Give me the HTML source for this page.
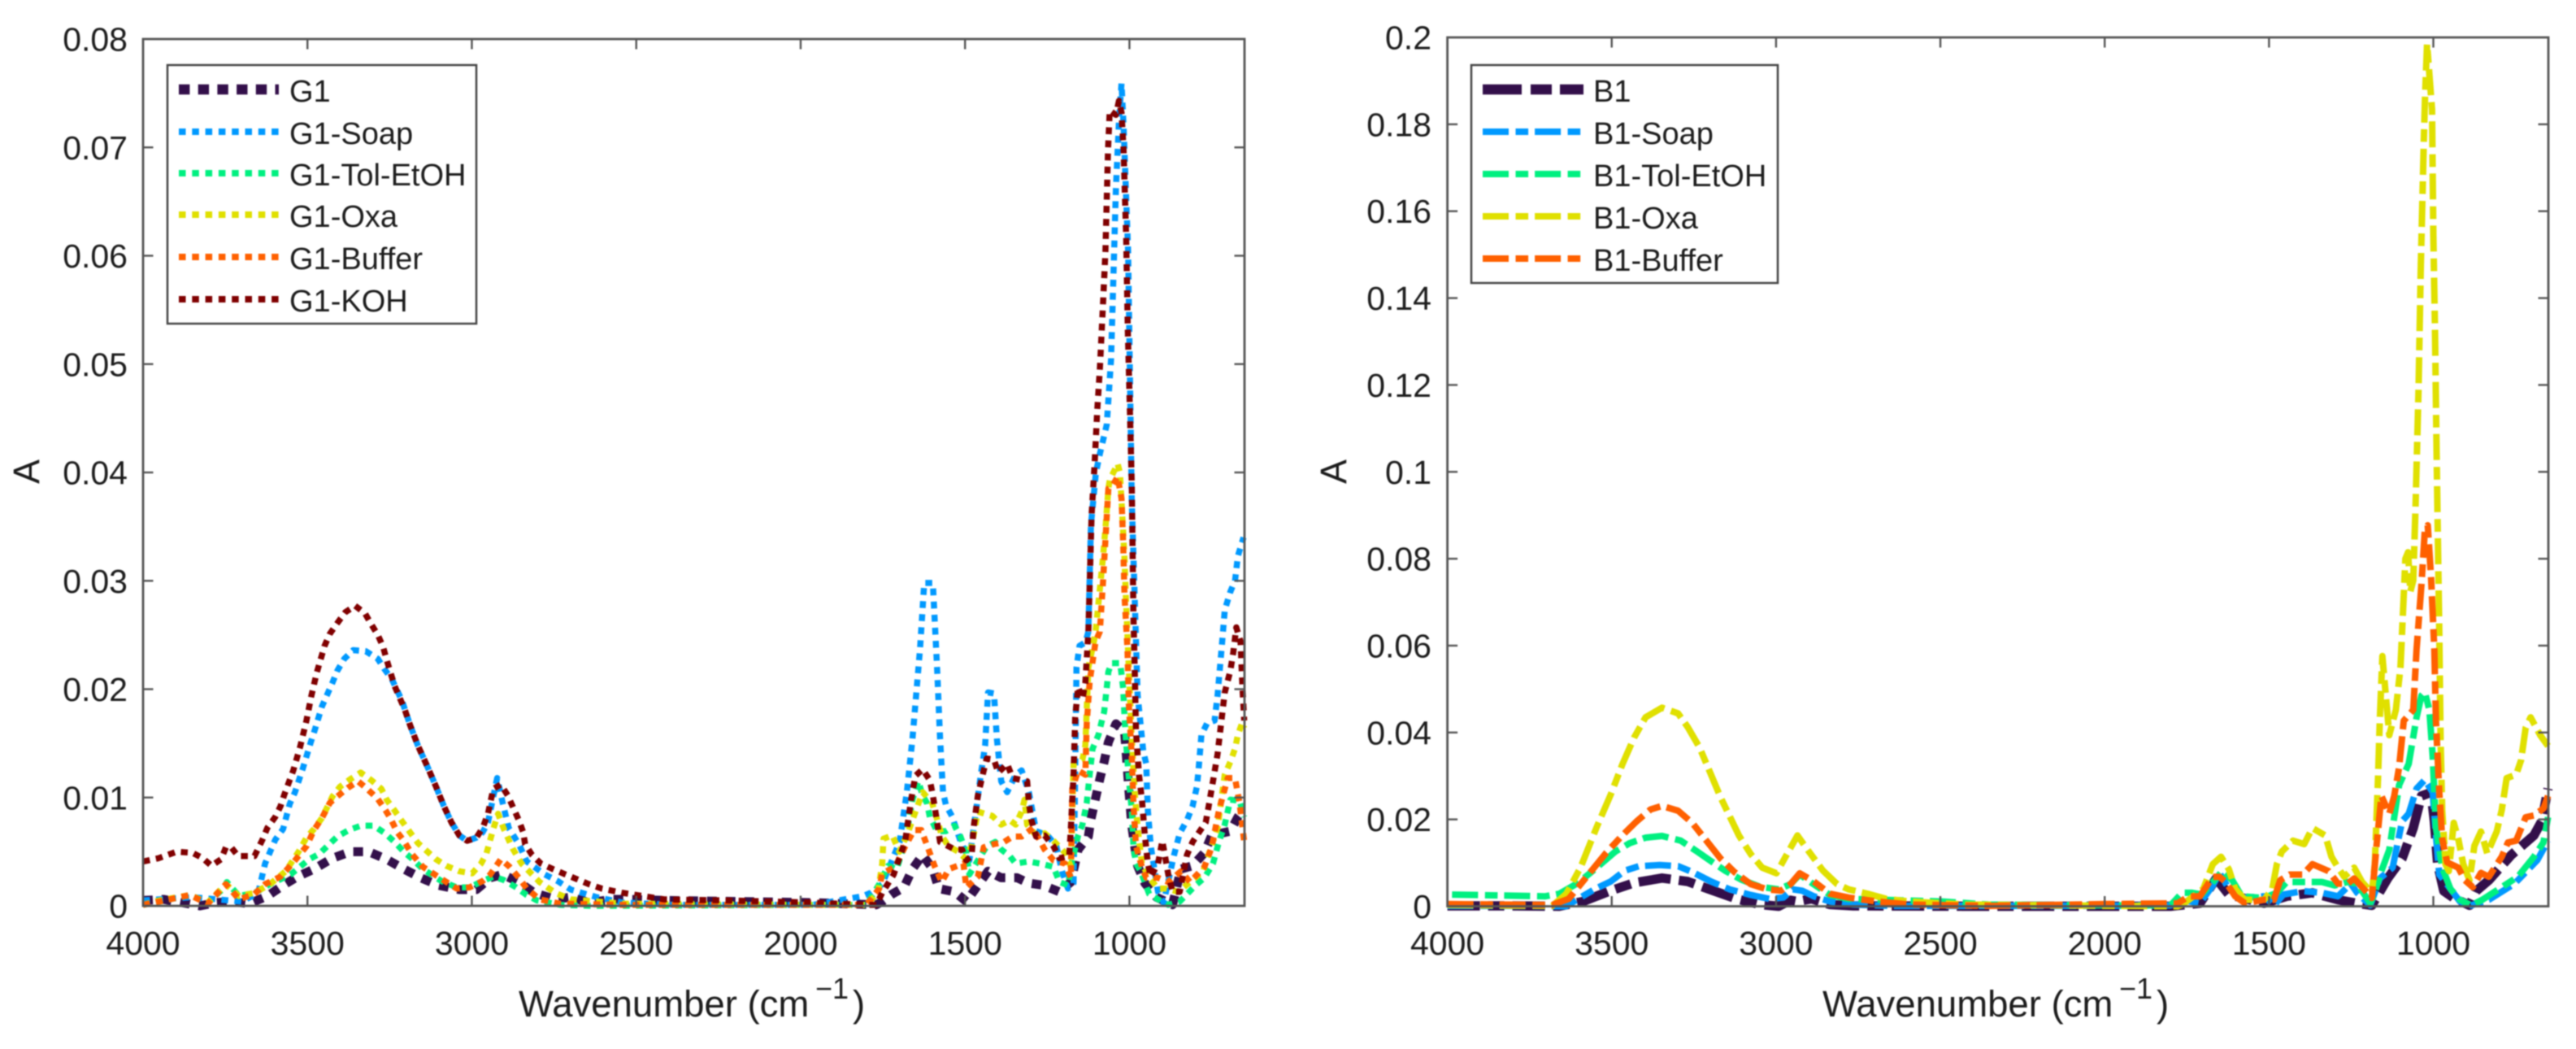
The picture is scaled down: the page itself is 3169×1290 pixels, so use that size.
<!DOCTYPE html>
<html lang="en">
<head>
<meta charset="utf-8">
<title>FTIR spectra G1 and B1</title>
<style>
html,body{margin:0;padding:0;background:#fff;width:3169px;height:1290px;overflow:hidden}
svg{display:block;filter:blur(0.9px)}
text{font-family:"Liberation Sans",sans-serif;fill:#1c1c1c}
</style>
</head>
<body>
<svg id="figure" xmlns="http://www.w3.org/2000/svg" width="3169" height="1290" viewBox="0 0 3169 1290">
  <rect x="0" y="0" width="3169" height="1290" fill="#fff"/>
  <g id="left-panel"></g>
  <g id="right-panel"></g>

  <g>
    <text x="638" y="1250" font-size="45.5">Wavenumber (cm</text>
    <text x="1003" y="1228" font-size="36">−1</text>
    <text x="1049" y="1250" font-size="45.5">)</text>
  </g>
  <text transform="translate(48,580) rotate(-90)" text-anchor="middle" font-size="45">A</text>

  <g>
    <text x="2242" y="1250" font-size="45.5">Wavenumber (cm</text>
    <text x="2607" y="1228" font-size="36">−1</text>
    <text x="2653" y="1250" font-size="45.5">)</text>
  </g>
  <text transform="translate(1656,580) rotate(-90)" text-anchor="middle" font-size="45">A</text>

  <g>
    <rect x="206" y="80" width="380" height="318" fill="#fff" stroke="#444" stroke-width="2.5"/>
    <g><line x1="220" x2="343" y1="110" y2="110" stroke="#330f4a" stroke-width="12.5" stroke-dasharray="13.4 10.3"/><text x="356" y="125" font-size="38">G1</text></g>
    <g><line x1="220" x2="343" y1="162" y2="162" stroke="#0099ff" stroke-width="8" stroke-dasharray="8.5 7.8"/><text x="356" y="177" font-size="38">G1-Soap</text></g>
    <g><line x1="220" x2="343" y1="213" y2="213" stroke="#00f080" stroke-width="8" stroke-dasharray="8.5 7.8"/><text x="356" y="228" font-size="38">G1-Tol-EtOH</text></g>
    <g><line x1="220" x2="343" y1="264" y2="264" stroke="#e0e000" stroke-width="8" stroke-dasharray="8.5 7.8"/><text x="356" y="279" font-size="38">G1-Oxa</text></g>
    <g><line x1="220" x2="343" y1="316" y2="316" stroke="#ff6000" stroke-width="8" stroke-dasharray="8.5 7.8"/><text x="356" y="331" font-size="38">G1-Buffer</text></g>
    <g><line x1="220" x2="343" y1="368" y2="368" stroke="#800000" stroke-width="8" stroke-dasharray="8.5 7.8"/><text x="356" y="383" font-size="38">G1-KOH</text></g>
  </g>

  <g>
    <rect x="1810" y="80" width="377" height="268" fill="#fff" stroke="#444" stroke-width="2.5"/>
    <g><line x1="1824" x2="1948" y1="110" y2="110" stroke="#330f4a" stroke-width="12.5" stroke-dasharray="48 11 26 10"/><text x="1960" y="125" font-size="38">B1</text></g>
    <g><line x1="1824" x2="1946" y1="162" y2="162" stroke="#0099ff" stroke-width="8" stroke-dasharray="32 8.5 15.6 8"/><text x="1960" y="177" font-size="38">B1-Soap</text></g>
    <g><line x1="1824" x2="1946" y1="214" y2="214" stroke="#00f080" stroke-width="8" stroke-dasharray="32 8.5 15.6 8"/><text x="1960" y="229" font-size="38">B1-Tol-EtOH</text></g>
    <g><line x1="1824" x2="1946" y1="266" y2="266" stroke="#e0e000" stroke-width="8" stroke-dasharray="32 8.5 15.6 8"/><text x="1960" y="281" font-size="38">B1-Oxa</text></g>
    <g><line x1="1824" x2="1946" y1="318" y2="318" stroke="#ff6000" stroke-width="8" stroke-dasharray="32 8.5 15.6 8"/><text x="1960" y="333" font-size="38">B1-Buffer</text></g>
  </g>
</svg>

<script>
// ---- tick labels ----
const xTickValues = [4000,3500,3000,2500,2000,1500,1000];
const leftYTicks = [0,0.01,0.02,0.03,0.04,0.05,0.06,0.07,0.08];
const rightYTicks = [0,0.02,0.04,0.06,0.08,0.1,0.12,0.14,0.16,0.18,0.2];

// ---- G panel series (wavenumber, absorbance) ----
const g1Wn = [4000,3937,3882,3827,3779,3732,3677,3622,3574,3530,3480,3424,3369,3314,3259,3207,3156,3101,3038,2986,2944,2907,2857,2810,2746,2699,2644,2573,2518,2415,1961,1770,1752,1721,1686,1660,1629,1598,1580,1532,1496,1461,1430,1390,1342,1306,1262,1213,1178,1156,1125,1117,1090,1077,1064,1041,1015,1011,1006,1002,993,984,975,953,918,869,843,808,772,750,693,670,657,651];
const g1Abs = [.0005,.0006,.0003,0,.0003,.0004,.0002,.0009,.0019,.0027,.0034,.0044,.005,.005,.0043,.0034,.0026,.0019,.0015,.0015,.0026,.0029,.0022,.0012,.0006,.0008,.0003,.0006,.0006,.0005,.0003,.0001,.0004,.0011,.0017,.0034,.0047,.0034,.0016,.0013,.0004,.0019,.0032,.0026,.0026,.0021,.0019,.0013,.0022,.0052,.0064,.008,.0117,.0133,.0151,.0168,.0161,.0145,.0125,.0108,.0074,.0055,.0037,.0021,.0008,.0001,.0034,.0037,.0049,.0065,.0069,.0082,.0087,.0088];

const g1SoapWn = [4000,3850,3700,3650,3629,3598,3574,3554,3538,3514,3491,3477,3456,3440,3424,3409,3388,3361,3322,3286,3267,3243,3212,3188,3164,3133,3109,3085,3062,3038,3014,2986,2967,2951,2923,2907,2888,2857,2833,2778,2739,2699,2620,2541,2384,1961,1810,1787,1752,1699,1677,1660,1637,1624,1598,1585,1576,1567,1558,1540,1514,1487,1452,1439,1430,1412,1403,1390,1372,1346,1328,1306,1284,1249,1222,1205,1187,1170,1165,1161,1152,1134,1125,1117,1102,1090,1069,1056,1041,1031,1024,1018,1004,993,975,958,949,944,935,913,896,865,847,825,808,795,790,781,763,741,732,719,710,693,679,670,653];
const g1SoapAbs = [.0005,.0008,.0004,.0012,.0039,.0061,.0071,.0094,.0105,.0127,.015,.0163,.0184,.0195,.0206,.0217,.0228,.0236,.0235,.0228,.0219,.0209,.0189,.0167,.0148,.0127,.011,.0092,.0077,.0065,.006,.0063,.0068,.0077,.0118,.0096,.0072,.0057,.0041,.0029,.0023,.0015,.0008,.0003,.0001,.0001,.0009,.0012,.002,.0059,.0105,.0154,.0237,.0298,.0298,.022,.0154,.0105,.0093,.0083,.006,.0042,.0121,.0148,.0197,.0196,.0154,.0115,.0105,.0121,.0125,.0105,.0069,.0065,.0055,.0032,.0016,.0021,.0121,.022,.024,.0243,.0253,.0352,.04,.0417,.0444,.0504,.0662,.073,.0759,.072,.0604,.0374,.0195,.0143,.0131,.0088,.0055,.0013,.0003,.0046,.0067,.0079,.0092,.011,.0125,.0158,.0169,.0171,.0194,.024,.0273,.029,.03,.0323,.034];

const g1TolWn = [4000,3950,3858,3803,3756,3745,3708,3661,3614,3551,3495,3464,3440,3409,3374,3338,3298,3264,3235,3207,3180,3149,3093,3046,3007,2967,2935,2904,2865,2833,2802,2731,2636,1961,1800,1761,1734,1708,1682,1660,1642,1629,1616,1607,1585,1558,1532,1514,1496,1487,1461,1434,1408,1390,1364,1346,1306,1271,1231,1213,1187,1174,1156,1143,1130,1121,1112,1094,1086,1077,1068,1064,1055,1028,1019,1015,1011,1002,993,988,980,966,940,913,882,847,799,772,746,728,710,693,665,651];
const g1TolAbs = [.0001,.0004,.001,.0003,.0016,.0022,.0009,.0012,.002,.0029,.0043,.0048,.0055,.0064,.007,.0074,.0074,.0067,.0059,.005,.0043,.0034,.0023,.0017,.0017,.0023,.0027,.0024,.0017,.001,.0005,.0001,0,.0001,.0001,.002,.0037,.0034,.0059,.0098,.0115,.0102,.0095,.0082,.0069,.0069,.0074,.0064,.0049,.0029,.0042,.0055,.0059,.0052,.0046,.0039,.0041,.0039,.0036,.0022,.0019,.0042,.0065,.0075,.0095,.0121,.0145,.0158,.0168,.0179,.0204,.0216,.0224,.0224,.0201,.0174,.0154,.0118,.0088,.0055,.0039,.0032,.0011,.0006,.0001,.0004,.0019,.0026,.0039,.0059,.0075,.0098,.0097,.0082];

const g1OxaWn = [4000,3950,3858,3803,3748,3708,3661,3614,3566,3527,3503,3480,3456,3440,3424,3401,3369,3338,3306,3275,3259,3235,3212,3188,3164,3109,3078,3038,2999,2972,2956,2935,2920,2904,2876,2849,2794,2746,2699,2541,1961,1800,1765,1752,1748,1721,1700,1677,1629,1600,1590,1570,1550,1520,1500,1480,1461,1417,1390,1364,1346,1328,1319,1311,1284,1258,1231,1196,1178,1170,1143,1134,1125,1108,1103,1081,1072,1064,1060,1036,1029,1024,1015,1011,1002,993,984,975,962,940,913,887,852,816,776,754,732,710,693,679,670,657,651];
const g1OxaAbs = [.0001,.0005,.001,.0003,.002,.0009,.0012,.002,.0032,.005,.0063,.0071,.0081,.0091,.0101,.011,.0117,.0123,.0116,.0108,.0098,.0088,.0078,.0068,.0058,.0043,.0037,.0032,.003,.0039,.0048,.0071,.0085,.0072,.0053,.0039,.0022,.0012,.0006,.0002,.0001,.0001,.0012,.0039,.0062,.0065,.005,.0065,.0105,.0095,.0085,.0064,.0055,.005,.0044,.0055,.0087,.0083,.0075,.0079,.0075,.0087,.0098,.0075,.0065,.0067,.006,.0049,.0036,.0131,.0135,.0148,.022,.0244,.0253,.032,.0352,.0385,.0393,.0408,.04,.0374,.032,.0286,.022,.0154,.0105,.0072,.0039,.0026,.0016,.0016,.0013,.0022,.0032,.0052,.0072,.0121,.0133,.0145,.0158,.0169,.0164];

const g1BufferWn = [4000,3950,3858,3803,3748,3708,3661,3629,3582,3543,3503,3480,3456,3432,3409,3377,3346,3322,3287,3264,3248,3227,3207,3183,3149,3093,3046,3007,2967,2944,2912,2885,2857,2833,2794,2731,2541,1961,1800,1761,1752,1712,1682,1655,1633,1611,1593,1571,1549,1505,1496,1461,1443,1412,1381,1355,1328,1293,1258,1231,1196,1178,1174,1156,1134,1130,1121,1103,1090,1081,1072,1064,1053,1036,1024,1019,1015,1006,1002,993,988,980,962,949,913,882,843,816,772,750,728,701,679,665,651];
const g1BufferAbs = [.0001,.0004,.001,.0002,.002,.0006,.0011,.002,.0027,.004,.0055,.007,.0081,.0095,.0101,.0109,.0115,.0109,.0099,.0089,.0081,.0068,.006,.0048,.0036,.0025,.0016,.0017,.0023,.0029,.0043,.0036,.0026,.0016,.0006,.0002,.0001,.0001,.0001,.0016,.003,.0036,.0055,.007,.007,.0052,.0037,.0022,.0034,.0039,.0017,.0027,.0054,.0057,.0059,.0064,.0064,.0072,.0052,.0042,.0039,.0026,.0108,.0125,.0121,.0168,.0207,.0244,.0253,.0296,.0343,.0385,.0387,.0396,.0376,.0336,.0286,.0237,.0187,.0138,.0095,.0055,.0036,.0026,.0026,.0022,.0032,.0022,.0036,.0054,.0088,.0118,.0118,.0095,.0059];

const g1KohWn = [4000,3953,3898,3850,3818,3792,3763,3748,3732,3711,3661,3637,3622,3598,3582,3570,3543,3522,3503,3488,3472,3448,3432,3409,3385,3355,3325,3306,3286,3270,3259,3235,3204,3188,3164,3133,3109,3085,3062,3038,3014,2986,2967,2951,2935,2912,2891,2857,2844,2838,2817,2790,2754,2715,2644,2605,2541,2415,2226,1961,1800,1770,1752,1717,1682,1664,1651,1629,1607,1598,1589,1576,1531,1509,1496,1480,1474,1461,1443,1434,1412,1399,1372,1355,1311,1306,1298,1284,1258,1231,1213,1183,1178,1170,1165,1156,1143,1134,1125,1115,1106,1098,1090,1081,1073,1065,1060,1041,1032,1024,1018,1010,1005,1000,993,988,984,980,971,962,953,944,935,913,900,882,869,847,825,808,786,768,759,746,732,719,710,693,684,675,662,657,651];
const g1KohAbs = [.0041,.0044,.005,.0049,.0044,.0037,.0043,.0054,.0054,.0046,.0046,.0061,.0072,.0082,.0092,.0103,.0125,.0147,.0171,.0194,.0215,.024,.0251,.0261,.0271,.0277,.027,.026,.025,.0239,.0227,.0203,.0181,.0167,.0148,.0127,.011,.0092,.0077,.0065,.006,.0063,.0072,.0085,.0108,.0112,.0102,.0079,.0068,.0057,.0047,.0039,.0034,.0029,.002,.0016,.0012,.0006,.0005,.0003,.0001,.0001,.0012,.0029,.006,.0098,.012,.0126,.0116,.0102,.0085,.0059,.0052,.0052,.0042,.0046,.0072,.0102,.0125,.0136,.0135,.0123,.0131,.0118,.0115,.0095,.0079,.0064,.0065,.0055,.0044,.0046,.0072,.0121,.0174,.0202,.0191,.0206,.0253,.0361,.0408,.0457,.0495,.0552,.0604,.0698,.0734,.073,.0743,.0732,.0698,.0618,.0532,.0475,.0389,.027,.022,.0161,.0121,.0098,.0065,.0039,.0027,.0039,.006,.0029,.0013,.0013,.0047,.0059,.0069,.0077,.0092,.0115,.014,.0174,.0197,.0217,.0234,.0257,.0244,.0206,.0171];

// ---- B panel series (wavenumber, absorbance) ----
const b1Wn = [4000,3800,3660,3588,3503,3432,3347,3269,3191,3120,3049,2992,2956,2935,2892,2836,2765,2400,2000,1800,1710,1661,1622,1515,1446,1368,1290,1232,1187,1139,1095,1061,1036,1007,997,987,968,938,890,870,831,763,694,670,651];
const b1Abs = [.0001,.0001,0,.0011,.0036,.0054,.0065,.0057,.0036,.0017,.0004,0,.0014,.0011,.0017,.0004,.0001,0,0,0,.0007,.0064,.0027,.0007,.0023,.0031,.0015,.0007,.0002,.0064,.011,.018,.0254,.0262,.0196,.0097,.0035,.0019,.0002,.0035,.006,.0118,.0163,.0196,.0271];

const b1SoapWn = [4000,3800,3640,3602,3553,3503,3460,3418,3354,3297,3255,3198,3141,3077,3020,2978,2949,2921,2885,2836,2765,2637,2000,1800,1764,1710,1671,1651,1622,1583,1515,1485,1456,1397,1339,1290,1251,1232,1192,1163,1124,1095,1075,1051,1026,1002,992,982,948,919,885,831,753,684,651];
const b1SoapAbs = [.0001,.0001,0,.0017,.0039,.0057,.0082,.0092,.0095,.0092,.0079,.0057,.0039,.0026,.0017,.002,.0039,.0036,.0023,.0011,.0004,.0001,.0001,.0002,.0015,.0007,.0048,.0077,.004,.0019,.0023,.0002,.0027,.0035,.0031,.0023,.0052,.0031,.0002,.0064,.0089,.0196,.0213,.0271,.0291,.0262,.0163,.0073,.004,.0011,.0002,.0015,.0052,.0106,.0151];

const b1TolWn = [3986,3702,3659,3602,3546,3489,3446,3397,3347,3290,3240,3198,3155,3105,3049,2992,2956,2928,2892,2836,2779,2637,2495,2353,2000,1800,1764,1734,1705,1671,1642,1612,1583,1515,1476,1446,1397,1339,1300,1261,1232,1192,1178,1158,1134,1104,1075,1051,1036,1026,1012,1002,997,992,973,948,919,885,851,792,743,694,665,651];
const b1TolAbs = [.0027,.0023,.0029,.0054,.0089,.0126,.0145,.0158,.0162,.0151,.0126,.0104,.0082,.0061,.0045,.0039,.0051,.0073,.0054,.0026,.0017,.0014,.0011,.0004,.0002,.0002,.0031,.0031,.0027,.0056,.0081,.006,.0023,.0019,.0031,.0056,.0056,.0056,.0048,.0056,.0052,.0007,.0031,.0081,.013,.0279,.0328,.0435,.0485,.0493,.0452,.0345,.0262,.018,.0089,.004,.0015,.0002,.0015,.0044,.0068,.0114,.0147,.0205];

const b1OxaWn = [4000,3681,3638,3595,3546,3503,3468,3432,3397,3347,3298,3269,3233,3205,3169,3141,3113,3077,3042,2999,2971,2935,2900,2857,2814,2779,2722,2665,2594,2424,1972,1778,1764,1700,1671,1646,1622,1603,1573,1515,1490,1476,1461,1427,1393,1368,1329,1310,1290,1271,1241,1217,1187,1178,1168,1163,1155,1134,1114,1100,1090,1085,1077,1070,1061,1054,1045,1038,1029,1025,1019,1004,1000,995,990,987,982,978,973,963,953,938,924,909,890,875,855,836,807,792,777,748,733,719,704,675,651];
const b1OxaAbs = [.0003,.0001,.0029,.0089,.0182,.0257,.0326,.0388,.0435,.0457,.0444,.0413,.0366,.0316,.0251,.0207,.0163,.012,.0089,.0076,.0114,.0163,.0126,.0082,.0051,.0039,.0029,.0017,.0011,.0004,.0001,0,.0004,.004,.0097,.0114,.0085,.004,.0015,.0015,.004,.0097,.0126,.0151,.0143,.018,.0163,.0114,.0089,.0068,.0089,.0056,.0031,.0097,.0303,.0427,.0576,.0394,.0452,.0551,.0716,.08,.0815,.0724,.075,.0926,.119,.1476,.1763,.187,.1985,.1834,.1547,.1332,.1046,.0881,.0633,.0386,.0221,.0097,.0081,.0192,.0155,.0097,.006,.0139,.0172,.0122,.0172,.0221,.0295,.0303,.0336,.0411,.0435,.0394,.0369];

const b1BufferWn = [4000,3681,3631,3574,3517,3468,3425,3382,3347,3298,3255,3212,3169,3127,3077,3027,2985,2956,2928,2885,2836,2779,2694,2594,2353,2000,1778,1744,1710,1671,1651,1632,1603,1573,1515,1485,1466,1437,1397,1368,1319,1290,1261,1241,1212,1187,1173,1158,1134,1119,1104,1090,1061,1051,1036,1026,1017,1007,997,992,982,973,958,924,904,880,855,831,792,773,748,719,694,665,651];
const b1BufferAbs = [.0005,.0003,.0017,.007,.0123,.0163,.0195,.0223,.0231,.022,.0192,.0151,.011,.0079,.0051,.0039,.0036,.0051,.0076,.0057,.0029,.002,.0011,.0004,.0001,.0005,.0007,.0023,.0023,.0068,.0068,.0056,.0023,.0007,.0015,.0015,.006,.0073,.0073,.0097,.0081,.0052,.0052,.0064,.004,.0019,.0139,.0254,.0213,.0254,.032,.0427,.0452,.0592,.0741,.0864,.0877,.0757,.0592,.0427,.0262,.0155,.0101,.0089,.006,.0044,.0077,.0068,.0114,.0147,.0151,.0205,.0209,.0225,.0254];

// ---- colours and dash styles ----
const leftSeries = [
  {id:'g1',            wn:g1Wn,       abs:g1Abs,       color:'#330f4a', width:11,  dash:'12 11'},
  {id:'g1-soap',       wn:g1SoapWn,   abs:g1SoapAbs,   color:'#0099ff', width:7.5, dash:'8.5 7.6'},
  {id:'g1-tol-etoh',   wn:g1TolWn,    abs:g1TolAbs,    color:'#00f080', width:7.5, dash:'8.5 7.6'},
  {id:'g1-oxa',        wn:g1OxaWn,    abs:g1OxaAbs,    color:'#e0e000', width:7.5, dash:'8.5 7.6'},
  {id:'g1-buffer',     wn:g1BufferWn, abs:g1BufferAbs, color:'#ff6000', width:7.5, dash:'8.5 7.6'},
  {id:'g1-koh',        wn:g1KohWn,    abs:g1KohAbs,    color:'#800000', width:7.5, dash:'8.5 7.6'}
];
const rightSeries = [
  {id:'b1',            wn:b1Wn,       abs:b1Abs,       color:'#330f4a', width:11.5,dash:'40 10 20 10'},
  {id:'b1-soap',       wn:b1SoapWn,   abs:b1SoapAbs,   color:'#0099ff', width:8,   dash:'32 8.5 15.6 8'},
  {id:'b1-tol-etoh',   wn:b1TolWn,    abs:b1TolAbs,    color:'#00f080', width:8,   dash:'32 8.5 15.6 8'},
  {id:'b1-oxa',        wn:b1OxaWn,    abs:b1OxaAbs,    color:'#e0e000', width:8,   dash:'32 8.5 15.6 8'},
  {id:'b1-buffer',     wn:b1BufferWn, abs:b1BufferAbs, color:'#ff6000', width:8,   dash:'32 8.5 15.6 8'}
];

const SVGNS = 'http://www.w3.org/2000/svg';
const AXIS_COLOR = '#555';
const TICK_LEN = 12.5;

function mk(parent, tag, attrs) {
  const el = document.createElementNS(SVGNS, tag);
  for (const k in attrs) el.setAttribute(k, attrs[k]);
  parent.appendChild(el);
  return el;
}

function drawPanel(panel, box, yMax, yTicks, series, labelRight) {
  const xScale = wn => box.left + (4000 - wn) / (4000 - 650) * (box.right - box.left);
  const yScale = v => box.bottom - v / yMax * (box.bottom - box.top);

  for (const s of series) {
    const pts = s.wn.map((w, i) => xScale(w).toFixed(1) + ',' + yScale(s.abs[i]).toFixed(1)).join(' ');
    const line = mk(panel, 'polyline', {points: pts, fill: 'none', stroke: s.color, 'stroke-width': s.width, 'stroke-dasharray': s.dash, 'stroke-linejoin': 'round'});
    
    
  }

  const frame = mk(panel, 'rect', {x: box.left, y: box.top, width: box.right - box.left, height: box.bottom - box.top, fill: 'none', stroke: AXIS_COLOR, 'stroke-width': 2.8});
  
  

  for (const t of xTickValues) {
    const x = xScale(t);
    if (t !== 4000) {
      const bt = mk(panel, 'line', {x1: x, x2: x, y1: box.bottom, y2: box.bottom - TICK_LEN, stroke: AXIS_COLOR, 'stroke-width': 2.4});
      
      
      const tt = mk(panel, 'line', {x1: x, x2: x, y1: box.top, y2: box.top + TICK_LEN, stroke: AXIS_COLOR, 'stroke-width': 2.4});
      
      
    }
    const lab = mk(panel, 'text', {x: x, y: 1174, 'text-anchor': 'middle', 'font-size': 41});
    lab.textContent = String(t);
    
    
  }

  for (const t of yTicks) {
    const y = yScale(t);
    if (t !== 0 && t !== yMax) {
      const lt = mk(panel, 'line', {x1: box.left, x2: box.left + TICK_LEN, y1: y, y2: y, stroke: AXIS_COLOR, 'stroke-width': 2.4});
      
      
      const rt = mk(panel, 'line', {x1: box.right, x2: box.right - TICK_LEN, y1: y, y2: y, stroke: AXIS_COLOR, 'stroke-width': 2.4});
      
      
    }
    const lab = mk(panel, 'text', {x: labelRight, y: y + 14.5, 'text-anchor': 'end', 'font-size': 41});
    lab.textContent = String(t);
    
    
  }
}

drawPanel(document.getElementById('left-panel'), {left: 176, right: 1531, top: 48, bottom: 1114}, 0.08, leftYTicks, leftSeries, 157);
drawPanel(document.getElementById('right-panel'), {left: 1780.6, right: 3135, top: 46, bottom: 1114.5}, 0.2, rightYTicks, rightSeries, 1761);
</script>
</body>
</html>
